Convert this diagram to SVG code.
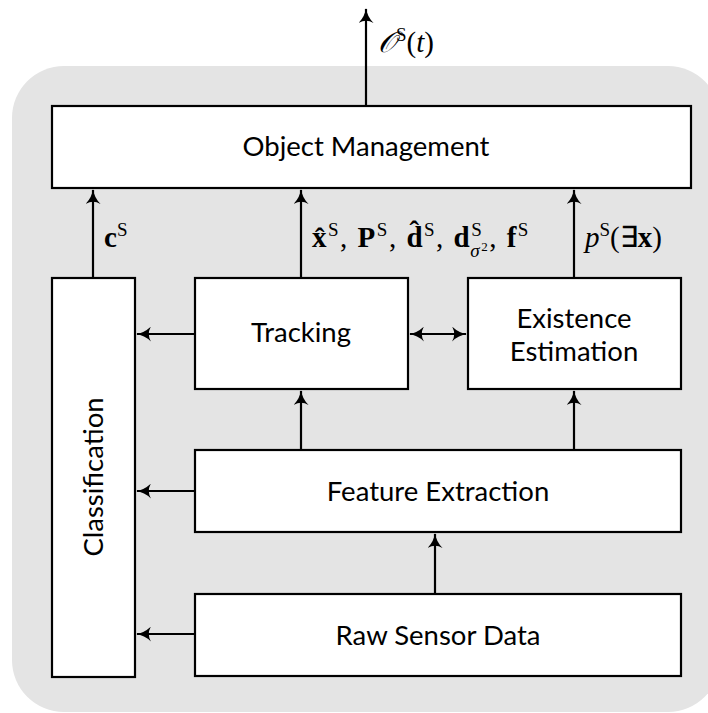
<svg xmlns="http://www.w3.org/2000/svg" width="708" height="713" viewBox="0 0 708 713">
<style>
.box{fill:#fff;stroke:#000;stroke-width:2.2}
.lbl{font-family:Lato,"DejaVu Sans",sans-serif;font-size:27.5px;fill:#000;text-anchor:middle}
.math{font-family:"Liberation Serif",serif;font-size:29px;fill:#000}
.c{stroke:#000;stroke-width:2.2;fill:none}
</style>
<defs>
<marker id="ah" viewBox="0 0 14 14" refX="13" refY="7" markerWidth="15" markerHeight="15" markerUnits="userSpaceOnUse" orient="auto-start-reverse">
<path d="M0,0 Q6,6 14,7 Q6,8 0,14 Q4,7 0,0 Z" fill="#000"/>
</marker>
</defs>
<rect x="12" y="66" width="708" height="646" rx="52" fill="#e4e4e4"/>
<g id="connectors">
<line class="c" x1="366" y1="106" x2="366" y2="9" marker-end="url(#ah)"/>
<line class="c" x1="93" y1="278" x2="93" y2="190" marker-end="url(#ah)"/>
<line class="c" x1="301" y1="278" x2="301" y2="190" marker-end="url(#ah)"/>
<line class="c" x1="574" y1="278" x2="574" y2="190" marker-end="url(#ah)"/>
<line class="c" x1="410" y1="334" x2="466" y2="334" marker-start="url(#ah)" marker-end="url(#ah)"/>
<line class="c" x1="195" y1="334" x2="137" y2="334" marker-end="url(#ah)"/>
<line class="c" x1="195" y1="491" x2="137" y2="491" marker-end="url(#ah)"/>
<line class="c" x1="195" y1="634" x2="137" y2="634" marker-end="url(#ah)"/>
<line class="c" x1="301" y1="450" x2="301" y2="391" marker-end="url(#ah)"/>
<line class="c" x1="574" y1="450" x2="574" y2="391" marker-end="url(#ah)"/>
<line class="c" x1="435" y1="594" x2="435" y2="534" marker-end="url(#ah)"/>
</g>
<g id="om"><rect class="box" x="52" y="106" width="639" height="82"/><text class="lbl" x="366" y="156">Object Management</text></g>
<g id="cls"><rect class="box" x="52" y="278" width="83" height="399"/><text class="lbl" transform="translate(103,477) rotate(-90)">Classification</text></g>
<g id="trk"><rect class="box" x="195" y="278" width="213" height="111"/><text class="lbl" x="301" y="342">Tracking</text></g>
<g id="ex"><rect class="box" x="468" y="278" width="213" height="111"/><text class="lbl" x="574" y="328">Existence</text><text class="lbl" x="574" y="361">Estimation</text></g>
<g id="fe"><rect class="box" x="195" y="450" width="486" height="82"/><text class="lbl" x="438" y="501">Feature Extraction</text></g>
<g id="raw"><rect class="box" x="195" y="594" width="486" height="82"/><text class="lbl" x="438" y="645">Raw Sensor Data</text></g>
<g id="labels">
<text class="math" x="378" y="52"><tspan font-style="italic">𝒪</tspan><tspan font-size="19" dy="-11">S</tspan><tspan dy="11">(</tspan><tspan font-style="italic">t</tspan>)</text>
<text class="math" x="104" y="247"><tspan font-weight="bold">c</tspan><tspan font-size="19" dy="-11">S</tspan></text>
<text class="math" x="312" y="247" letter-spacing="1.5"><tspan font-weight="bold">x̂</tspan><tspan font-size="19" dy="-11">S</tspan><tspan dy="11">, </tspan><tspan font-weight="bold">P</tspan><tspan font-size="19" dy="-11">S</tspan><tspan dy="11">, </tspan><tspan font-weight="bold">d̂</tspan><tspan font-size="19" dy="-11">S</tspan><tspan dy="11">, </tspan><tspan font-weight="bold">d</tspan><tspan font-size="19" dy="-11">S</tspan><tspan font-size="19" font-style="italic" dx="-13" dy="21">σ</tspan><tspan font-size="13" dy="-6">2</tspan><tspan dy="-4">, </tspan><tspan font-weight="bold">f</tspan><tspan font-size="19" dy="-11">S</tspan></text>
<text class="math" x="585" y="247"><tspan font-style="italic">p</tspan><tspan font-size="19" dy="-11">S</tspan><tspan dy="11">(∃</tspan><tspan font-weight="bold">x</tspan>)</text>
</g>
</svg>
